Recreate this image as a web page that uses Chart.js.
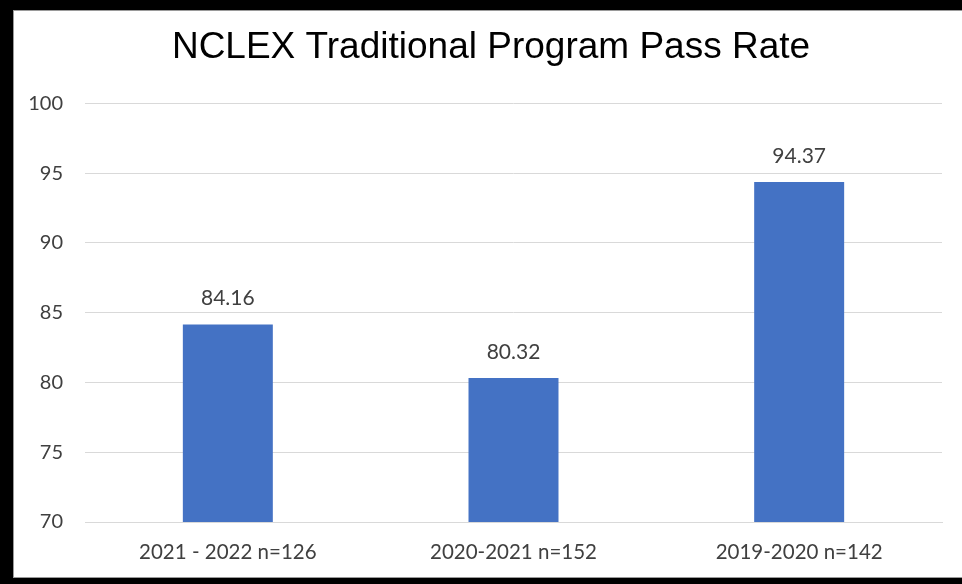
<!DOCTYPE html>
<html>
<head>
<meta charset="utf-8">
<script src="https://cdn.jsdelivr.net/npm/chart.js@4.4.1/dist/chart.umd.min.js"></script>
<style>
  html, body { margin: 0; padding: 0; background: #fff; }
  #frame {
    position: absolute; left: 0; top: 0; width: 962px; height: 584px;
    box-sizing: border-box; background: #000;
  }
  #inner {
    position: absolute; left: 13px; top: 10px; width: 949px; height: 568px;
    background: #fff; box-shadow: inset 1px 1px 0 #9a9a9a, inset 0 -1px 0 #9a9a9a;
  }
</style>
</head>
<body>
<div id="frame"><div id="inner"><canvas id="chart" width="949" height="568"></canvas></div></div>
<script>
const categories = ['2021 - 2022 n=126', '2020-2021 n=152', '2019-2020 n=142'];
const passRates = [84.16, 80.32, 94.37];
const yTicks = [70, 75, 80, 85, 90, 95, 100];

const labelFont = "Lato, 'Open Sans', sans-serif";

// labels over each bar
const barLabels = {
    id: 'barLabels',
    afterDatasetsDraw(chart) {
        const c = chart.ctx;
        const meta = chart.getDatasetMeta(0);
        c.save();
        c.font = '21px ' + labelFont;
        c.fillStyle = '#404040';
        c.textAlign = 'center';
        c.textBaseline = 'middle';
        meta.data.forEach((bar, i) => {
            c.fillText(passRates[i].toFixed(2), bar.x, bar.y - 26);
        });
        c.restore();
    }
};

const ctx = document.getElementById('chart').getContext('2d');
new Chart(ctx, {
    type: 'bar',
    data: {
        labels: categories,
        datasets: [{
            data: passRates,
            backgroundColor: '#4472C4',
            barPercentage: 0.315,
            categoryPercentage: 1,
            yAxisID: 'y'
        }]
    },
    options: {
        responsive: false,
        animation: false,
        layout: { padding: { left: 7, right: 0, top: 0, bottom: 16 } },
        plugins: {
            legend: { display: false },
            tooltip: { enabled: false },
            title: {
                display: true,
                text: 'NCLEX Traditional Program Pass Rate',
                color: '#000',
                font: { family: "'Liberation Sans', Arial, sans-serif", size: 37, weight: 'normal' },
                padding: { top: 16, bottom: 33 }
            }
        },
        scales: {
            x: {
                grid: { display: false, drawTicks: false },
                border: { display: true, color: '#d9d9d9', width: 1 },
                afterFit(axis) { axis.height = 40; },
                ticks: { color: '#404040', font: { family: labelFont, size: 20.5 }, padding: 18, maxRotation: 0 }
            },
            y: {
                min: 70,
                max: 100,
                afterBuildTicks(axis) { axis.ticks = yTicks.map(v => ({ value: v })); },
                afterFit(axis) { axis.width = 65; },
                grid: { color: '#d9d9d9', drawTicks: false },
                border: { display: false },
                ticks: { color: '#404040', font: { family: labelFont, size: 20 }, padding: 22 }
            },
            // empty right margin
            yRight: {
                position: 'right',
                grid: { display: false, drawTicks: false },
                border: { display: false },
                ticks: { display: false },
                afterFit(axis) { axis.width = 20; }
            }
        }
    },
    plugins: [barLabels]
});
</script>
</body>
</html>
